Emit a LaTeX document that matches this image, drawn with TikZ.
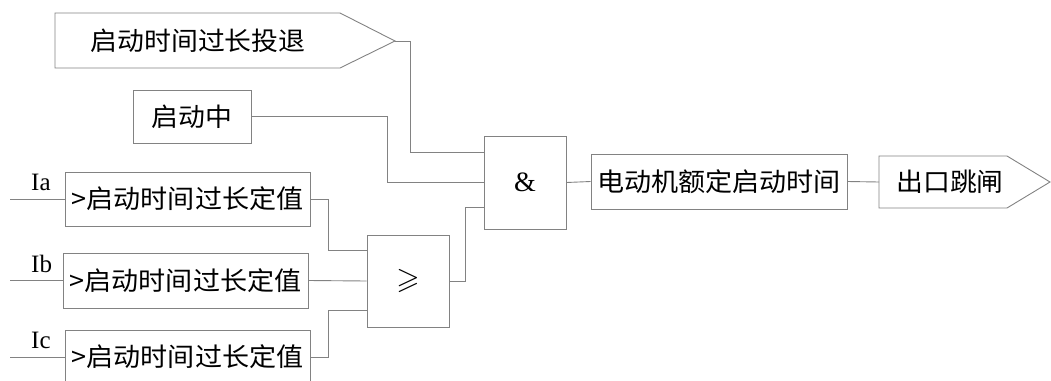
\documentclass[tikz,border=0pt]{standalone}
\usepackage{fontspec}
\usepackage{amssymb}
\setmainfont{Liberation Serif}
\newfontfamily\cjk[FakeStretch=1.05]{Noto Sans CJK SC}
\newcommand\cjkA{\cjk\fontsize{25.6}{27}\selectfont}
\newcommand\cjkB{\cjk\fontsize{25.8}{27}\selectfont}
\definecolor{lc}{RGB}{130,130,130}
\begin{document}
\begin{tikzpicture}[x=1pt,y=-1pt,
  conn/.style={draw=lc,line width=0.9pt},
  box/.style={draw=lc,line width=0.9pt,inner sep=0pt,fill=white},
  lbl/.style={inner sep=0pt,text=black},
  sig/.style={inner sep=0pt,font=\fontsize{25}{27}\selectfont}]
\useasboundingbox (0,0) rectangle (1051,380);
\clip (0,0) rectangle (1051,380);
% pentagon: start-time-too-long enable
\draw[conn] (55,13) -- (340,13) -- (395,41) -- (340,68) -- (55,68) -- cycle;
\coordinate (tztip) at (395,41);
\node[lbl] (tz) at (198,41) {\cjkA 启动时间过长投退};
% starting box
\node[box,minimum width=118pt,minimum height=53pt] (qd) at (192,116.5) {\cjkA 启动中};
% AND gate
\node[box,minimum width=82pt,minimum height=93pt] (and) at (525,182.5) {\fontsize{28}{30}\selectfont\&};
% OR gate
\node[box,minimum width=82pt,minimum height=92pt] (ge) at (408,281) {\fontsize{30}{32}\selectfont$\geqslant$};
% threshold boxes
\node[box,minimum width=245pt,minimum height=54pt] (ia) at (187.5,199) {\cjkB >启动时间过长定值};
\node[box,minimum width=245pt,minimum height=55pt] (ib) at (185.5,280.5) {\cjkB >启动时间过长定值};
\node[box,minimum width=245pt,minimum height=54pt] (ic) at (187.5,357) {\cjkB >启动时间过长定值};
% rated start time
\node[box,minimum width=256pt,minimum height=55pt] (dj) at (719,181.5) {\cjkB 电动机额定启动时间};
% output pentagon
\draw[conn] (879,156) -- (1007,156) -- (1050,182) -- (1007,208) -- (879,208) -- cycle;
\coordinate (ckin) at (879,182);
\node[lbl] (ck) at (950,182) {\cjkA 出口跳闸};
% inputs
\coordinate (ina) at (10,199);
\coordinate (inb) at (10,280.5);
\coordinate (inc) at (10,357);
\draw[conn] (ina) -- (ia.west);
\draw[conn] (inb) -- (ib.west);
\draw[conn] (inc) -- (ic.west);
\node[sig,anchor=base west] (la) at (31,190) {Ia};
\node[sig,anchor=base west] (lb) at (31,272) {Ib};
\node[sig,anchor=base west] (lc) at (31,348) {Ic};
% connectors
\draw[conn] (tztip) -- ++(15,0) |- ([yshift=30.5pt]and.west);
\draw[conn] (qd.east) -- ++(136,0) |- (and.west);
\draw[conn] (ge.east) -- ++(16,0) |- ([yshift=-24.5pt]and.west);
\draw[conn] (and.east) -- (dj.west);
\draw[conn] (dj.east) -- (ckin);
\draw[conn] (ia.east) -- ++(18,0) |- ([yshift=31pt]ge.west);
\draw[conn] (ib.east) -- (ge.west);
\draw[conn] (ic.east) -- ++(18,0) |- ([yshift=-29pt]ge.west);
\end{tikzpicture}
\end{document}
